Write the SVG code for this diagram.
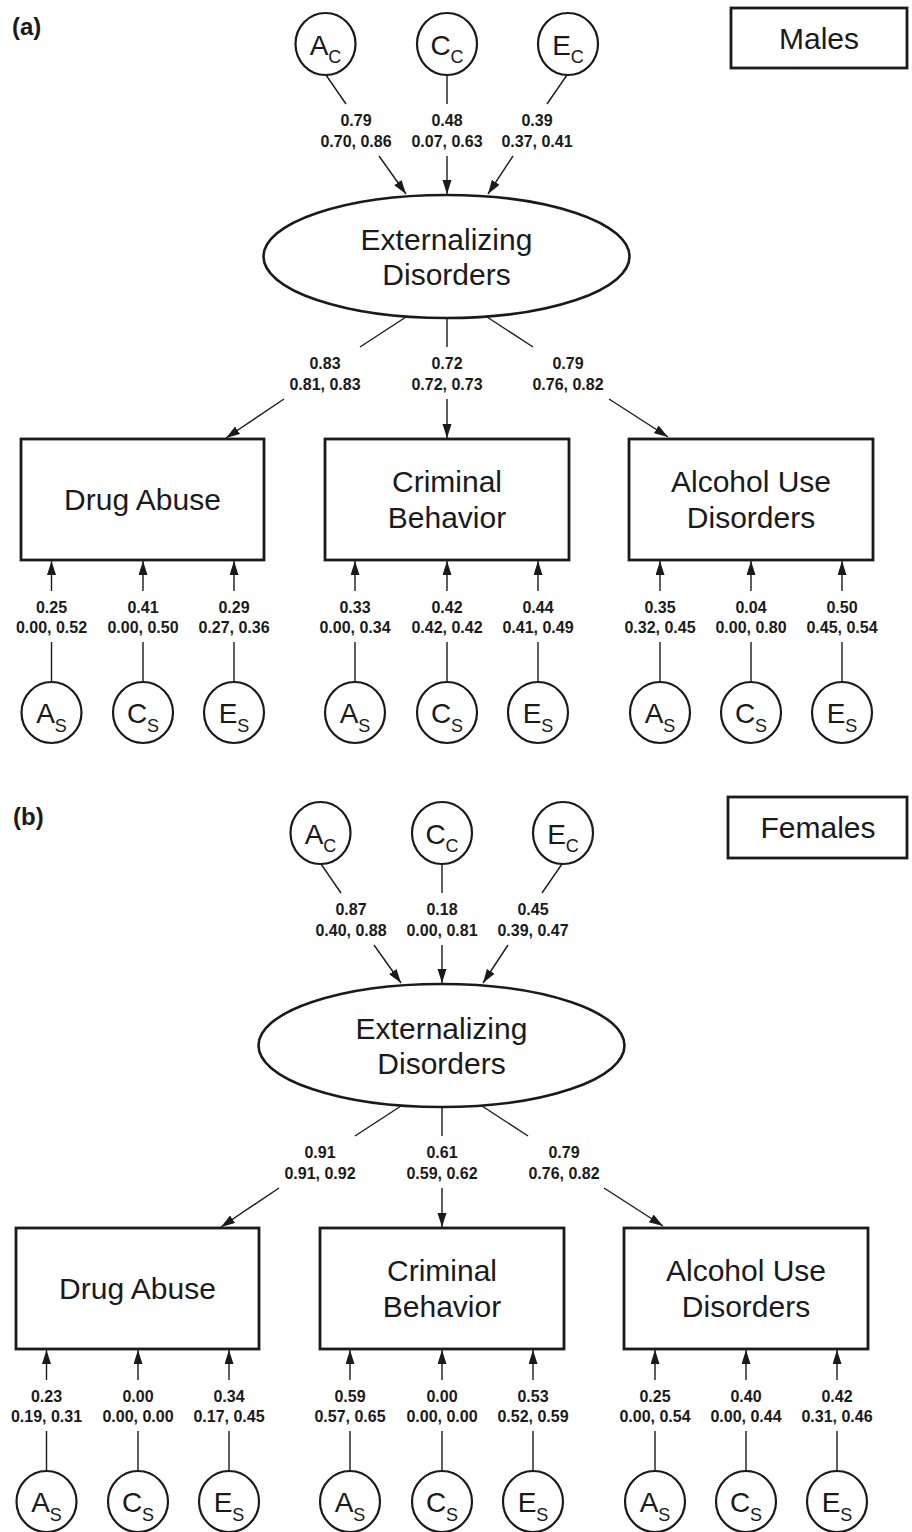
<svg xmlns="http://www.w3.org/2000/svg" width="912" height="1532" viewBox="0 0 912 1532">
<style>
.n{fill:#fff;stroke:#1a1a1a;stroke-width:2.2}
.box{fill:#fff;stroke:#1a1a1a;stroke-width:2.8}
.t{font-family:"Liberation Sans",Arial,sans-serif;fill:#1a1a1a}
.lbl{font-size:16px;font-weight:bold;text-anchor:middle}
.big{font-size:30px;text-anchor:middle}
.ltr{font-size:28px;text-anchor:middle}
.sub{font-size:18px}
.pl{font-size:24px;font-weight:bold}
.e{stroke:#1a1a1a;stroke-width:1.4;fill:none}
.a{stroke:#1a1a1a;stroke-width:1.4;fill:none;marker-end:url(#ah)}
</style>
<defs>
<marker id="ah" markerUnits="userSpaceOnUse" markerWidth="15" markerHeight="10" refX="14" refY="4.5" orient="auto">
<path d="M0,0 L14,4.5 L0,9 z" fill="#1a1a1a"/>
</marker>
</defs>
<rect width="912" height="1532" fill="#fff"/>

<g id="panel-a">
<text id="label-a" class="t pl" x="12" y="35">(a)</text>
<g id="males"><rect class="box" x="731" y="8" width="176" height="60"/><text class="t big" x="819" y="49">Males</text></g>
<g id="a-connectors">
<line class="e" x1="326" y1="75" x2="346" y2="104"/><line class="a" x1="379" y1="156" x2="406" y2="194"/>
<line class="e" x1="447" y1="75" x2="447" y2="104"/><line class="a" x1="447" y1="156" x2="447" y2="194"/>
<line class="e" x1="567" y1="75" x2="547" y2="104"/><line class="a" x1="513" y1="156" x2="488" y2="194"/>
<line class="e" x1="406" y1="317" x2="360" y2="347"/><line class="a" x1="284" y1="399" x2="226" y2="438"/>
<line class="e" x1="447" y1="318" x2="447" y2="347"/><line class="a" x1="447" y1="399" x2="447" y2="438"/>
<line class="e" x1="487" y1="317" x2="533" y2="347"/><line class="a" x1="609" y1="399" x2="668" y2="437"/>
<line class="e" x1="51.5" y1="682" x2="51.5" y2="642"/><line class="a" x1="51.5" y1="591" x2="51.5" y2="561"/>
<line class="e" x1="143" y1="682" x2="143" y2="642"/><line class="a" x1="143" y1="591" x2="143" y2="561"/>
<line class="e" x1="234" y1="682" x2="234" y2="642"/><line class="a" x1="234" y1="591" x2="234" y2="561"/>
<line class="e" x1="355" y1="682" x2="355" y2="642"/><line class="a" x1="355" y1="591" x2="355" y2="561"/>
<line class="e" x1="447" y1="682" x2="447" y2="642"/><line class="a" x1="447" y1="591" x2="447" y2="561"/>
<line class="e" x1="538" y1="682" x2="538" y2="642"/><line class="a" x1="538" y1="591" x2="538" y2="561"/>
<line class="e" x1="660" y1="682" x2="660" y2="642"/><line class="a" x1="660" y1="591" x2="660" y2="561"/>
<line class="e" x1="751" y1="682" x2="751" y2="642"/><line class="a" x1="751" y1="591" x2="751" y2="561"/>
<line class="e" x1="842" y1="682" x2="842" y2="642"/><line class="a" x1="842" y1="591" x2="842" y2="561"/>
</g>
<g id="a-labels" class="t lbl">
<text x="356" y="126">0.79</text><text x="356" y="147">0.70, 0.86</text>
<text x="447" y="126">0.48</text><text x="447" y="147">0.07, 0.63</text>
<text x="537" y="126">0.39</text><text x="537" y="147">0.37, 0.41</text>
<text x="325" y="369">0.83</text><text x="325" y="390">0.81, 0.83</text>
<text x="447" y="369">0.72</text><text x="447" y="390">0.72, 0.73</text>
<text x="568" y="369">0.79</text><text x="568" y="390">0.76, 0.82</text>
<text x="51.5" y="613">0.25</text><text x="51.5" y="633">0.00, 0.52</text>
<text x="143" y="613">0.41</text><text x="143" y="633">0.00, 0.50</text>
<text x="234" y="613">0.29</text><text x="234" y="633">0.27, 0.36</text>
<text x="355" y="613">0.33</text><text x="355" y="633">0.00, 0.34</text>
<text x="447" y="613">0.42</text><text x="447" y="633">0.42, 0.42</text>
<text x="538" y="613">0.44</text><text x="538" y="633">0.41, 0.49</text>
<text x="660" y="613">0.35</text><text x="660" y="633">0.32, 0.45</text>
<text x="751" y="613">0.04</text><text x="751" y="633">0.00, 0.80</text>
<text x="842" y="613">0.50</text><text x="842" y="633">0.45, 0.54</text>
</g>
<g id="a-AC"><ellipse class="n" cx="325.5" cy="44" rx="30" ry="31"/><text class="t ltr" x="325.5" y="54.5">A<tspan class="sub" dy="8.5">C</tspan></text></g>
<g id="a-CC"><ellipse class="n" cx="447" cy="44" rx="30" ry="31"/><text class="t ltr" x="447" y="54.5">C<tspan class="sub" dy="8.5">C</tspan></text></g>
<g id="a-EC"><ellipse class="n" cx="568" cy="44" rx="30" ry="31"/><text class="t ltr" x="568" y="54.5">E<tspan class="sub" dy="8.5">C</tspan></text></g>
<g id="a-ext"><ellipse class="n" cx="446.5" cy="256.5" rx="183" ry="61.5" style="stroke-width:2.6"/><text class="t big" x="446.5" y="250">Externalizing</text><text class="t big" x="446.5" y="285">Disorders</text></g>
<g id="a-drug"><rect class="box" x="21" y="439" width="243" height="121"/><text class="t big" x="142.5" y="510">Drug Abuse</text></g>
<g id="a-crim"><rect class="box" x="325" y="439" width="244" height="121"/><text class="t big" x="447" y="492">Criminal</text><text class="t big" x="447" y="528">Behavior</text></g>
<g id="a-alc"><rect class="box" x="629" y="439" width="244" height="121"/><text class="t big" x="751" y="492">Alcohol Use</text><text class="t big" x="751" y="528">Disorders</text></g>
<g id="a-AS1"><ellipse class="n" cx="51.5" cy="712.5" rx="30" ry="30.5"/><text class="t ltr" x="51.5" y="723">A<tspan class="sub" dy="8.5">S</tspan></text></g>
<g id="a-CS1"><ellipse class="n" cx="143" cy="712.5" rx="30" ry="30.5"/><text class="t ltr" x="143" y="723">C<tspan class="sub" dy="8.5">S</tspan></text></g>
<g id="a-ES1"><ellipse class="n" cx="234" cy="712.5" rx="30" ry="30.5"/><text class="t ltr" x="234" y="723">E<tspan class="sub" dy="8.5">S</tspan></text></g>
<g id="a-AS2"><ellipse class="n" cx="355" cy="712.5" rx="30" ry="30.5"/><text class="t ltr" x="355" y="723">A<tspan class="sub" dy="8.5">S</tspan></text></g>
<g id="a-CS2"><ellipse class="n" cx="447" cy="712.5" rx="30" ry="30.5"/><text class="t ltr" x="447" y="723">C<tspan class="sub" dy="8.5">S</tspan></text></g>
<g id="a-ES2"><ellipse class="n" cx="538" cy="712.5" rx="30" ry="30.5"/><text class="t ltr" x="538" y="723">E<tspan class="sub" dy="8.5">S</tspan></text></g>
<g id="a-AS3"><ellipse class="n" cx="660" cy="712.5" rx="30" ry="30.5"/><text class="t ltr" x="660" y="723">A<tspan class="sub" dy="8.5">S</tspan></text></g>
<g id="a-CS3"><ellipse class="n" cx="751" cy="712.5" rx="30" ry="30.5"/><text class="t ltr" x="751" y="723">C<tspan class="sub" dy="8.5">S</tspan></text></g>
<g id="a-ES3"><ellipse class="n" cx="842" cy="712.5" rx="30" ry="30.5"/><text class="t ltr" x="842" y="723">E<tspan class="sub" dy="8.5">S</tspan></text></g>
</g>

<text id="label-b" class="t pl" x="13" y="825">(b)</text>
<g id="females"><rect class="box" x="728" y="797" width="179" height="61"/><text class="t big" x="818" y="838">Females</text></g>

<g id="panel-b" transform="translate(-5,789)">
<g id="b-connectors">
<line class="e" x1="326" y1="75" x2="346" y2="104"/><line class="a" x1="379" y1="156" x2="406" y2="194"/>
<line class="e" x1="447" y1="75" x2="447" y2="104"/><line class="a" x1="447" y1="156" x2="447" y2="194"/>
<line class="e" x1="567" y1="75" x2="547" y2="104"/><line class="a" x1="513" y1="156" x2="488" y2="194"/>
<line class="e" x1="406" y1="317" x2="360" y2="347"/><line class="a" x1="284" y1="399" x2="226" y2="438"/>
<line class="e" x1="447" y1="318" x2="447" y2="347"/><line class="a" x1="447" y1="399" x2="447" y2="438"/>
<line class="e" x1="487" y1="317" x2="533" y2="347"/><line class="a" x1="609" y1="399" x2="668" y2="437"/>
<line class="e" x1="51.5" y1="682" x2="51.5" y2="642"/><line class="a" x1="51.5" y1="591" x2="51.5" y2="561"/>
<line class="e" x1="143" y1="682" x2="143" y2="642"/><line class="a" x1="143" y1="591" x2="143" y2="561"/>
<line class="e" x1="234" y1="682" x2="234" y2="642"/><line class="a" x1="234" y1="591" x2="234" y2="561"/>
<line class="e" x1="355" y1="682" x2="355" y2="642"/><line class="a" x1="355" y1="591" x2="355" y2="561"/>
<line class="e" x1="447" y1="682" x2="447" y2="642"/><line class="a" x1="447" y1="591" x2="447" y2="561"/>
<line class="e" x1="538" y1="682" x2="538" y2="642"/><line class="a" x1="538" y1="591" x2="538" y2="561"/>
<line class="e" x1="660" y1="682" x2="660" y2="642"/><line class="a" x1="660" y1="591" x2="660" y2="561"/>
<line class="e" x1="751" y1="682" x2="751" y2="642"/><line class="a" x1="751" y1="591" x2="751" y2="561"/>
<line class="e" x1="842" y1="682" x2="842" y2="642"/><line class="a" x1="842" y1="591" x2="842" y2="561"/>
</g>
<g id="b-labels" class="t lbl">
<text x="356" y="126">0.87</text><text x="356" y="147">0.40, 0.88</text>
<text x="447" y="126">0.18</text><text x="447" y="147">0.00, 0.81</text>
<text x="538" y="126">0.45</text><text x="538" y="147">0.39, 0.47</text>
<text x="325" y="369">0.91</text><text x="325" y="390">0.91, 0.92</text>
<text x="447" y="369">0.61</text><text x="447" y="390">0.59, 0.62</text>
<text x="569" y="369">0.79</text><text x="569" y="390">0.76, 0.82</text>
<text x="51.5" y="613">0.23</text><text x="51.5" y="633">0.19, 0.31</text>
<text x="143" y="613">0.00</text><text x="143" y="633">0.00, 0.00</text>
<text x="234" y="613">0.34</text><text x="234" y="633">0.17, 0.45</text>
<text x="355" y="613">0.59</text><text x="355" y="633">0.57, 0.65</text>
<text x="447" y="613">0.00</text><text x="447" y="633">0.00, 0.00</text>
<text x="538" y="613">0.53</text><text x="538" y="633">0.52, 0.59</text>
<text x="660" y="613">0.25</text><text x="660" y="633">0.00, 0.54</text>
<text x="751" y="613">0.40</text><text x="751" y="633">0.00, 0.44</text>
<text x="842" y="613">0.42</text><text x="842" y="633">0.31, 0.46</text>
</g>
<g id="b-AC"><ellipse class="n" cx="325.5" cy="44" rx="30" ry="31"/><text class="t ltr" x="325.5" y="54.5">A<tspan class="sub" dy="8.5">C</tspan></text></g>
<g id="b-CC"><ellipse class="n" cx="447" cy="44" rx="30" ry="31"/><text class="t ltr" x="447" y="54.5">C<tspan class="sub" dy="8.5">C</tspan></text></g>
<g id="b-EC"><ellipse class="n" cx="568" cy="44" rx="30" ry="31"/><text class="t ltr" x="568" y="54.5">E<tspan class="sub" dy="8.5">C</tspan></text></g>
<g id="b-ext"><ellipse class="n" cx="446.5" cy="256.5" rx="183" ry="61.5" style="stroke-width:2.6"/><text class="t big" x="446.5" y="250">Externalizing</text><text class="t big" x="446.5" y="285">Disorders</text></g>
<g id="b-drug"><rect class="box" x="21" y="439" width="243" height="121"/><text class="t big" x="142.5" y="510">Drug Abuse</text></g>
<g id="b-crim"><rect class="box" x="325" y="439" width="244" height="121"/><text class="t big" x="447" y="492">Criminal</text><text class="t big" x="447" y="528">Behavior</text></g>
<g id="b-alc"><rect class="box" x="629" y="439" width="244" height="121"/><text class="t big" x="751" y="492">Alcohol Use</text><text class="t big" x="751" y="528">Disorders</text></g>
<g id="b-AS1"><ellipse class="n" cx="51.5" cy="712.5" rx="30" ry="30.5"/><text class="t ltr" x="51.5" y="723">A<tspan class="sub" dy="8.5">S</tspan></text></g>
<g id="b-CS1"><ellipse class="n" cx="143" cy="712.5" rx="30" ry="30.5"/><text class="t ltr" x="143" y="723">C<tspan class="sub" dy="8.5">S</tspan></text></g>
<g id="b-ES1"><ellipse class="n" cx="234" cy="712.5" rx="30" ry="30.5"/><text class="t ltr" x="234" y="723">E<tspan class="sub" dy="8.5">S</tspan></text></g>
<g id="b-AS2"><ellipse class="n" cx="355" cy="712.5" rx="30" ry="30.5"/><text class="t ltr" x="355" y="723">A<tspan class="sub" dy="8.5">S</tspan></text></g>
<g id="b-CS2"><ellipse class="n" cx="447" cy="712.5" rx="30" ry="30.5"/><text class="t ltr" x="447" y="723">C<tspan class="sub" dy="8.5">S</tspan></text></g>
<g id="b-ES2"><ellipse class="n" cx="538" cy="712.5" rx="30" ry="30.5"/><text class="t ltr" x="538" y="723">E<tspan class="sub" dy="8.5">S</tspan></text></g>
<g id="b-AS3"><ellipse class="n" cx="660" cy="712.5" rx="30" ry="30.5"/><text class="t ltr" x="660" y="723">A<tspan class="sub" dy="8.5">S</tspan></text></g>
<g id="b-CS3"><ellipse class="n" cx="751" cy="712.5" rx="30" ry="30.5"/><text class="t ltr" x="751" y="723">C<tspan class="sub" dy="8.5">S</tspan></text></g>
<g id="b-ES3"><ellipse class="n" cx="842" cy="712.5" rx="30" ry="30.5"/><text class="t ltr" x="842" y="723">E<tspan class="sub" dy="8.5">S</tspan></text></g>
</g>
</svg>
